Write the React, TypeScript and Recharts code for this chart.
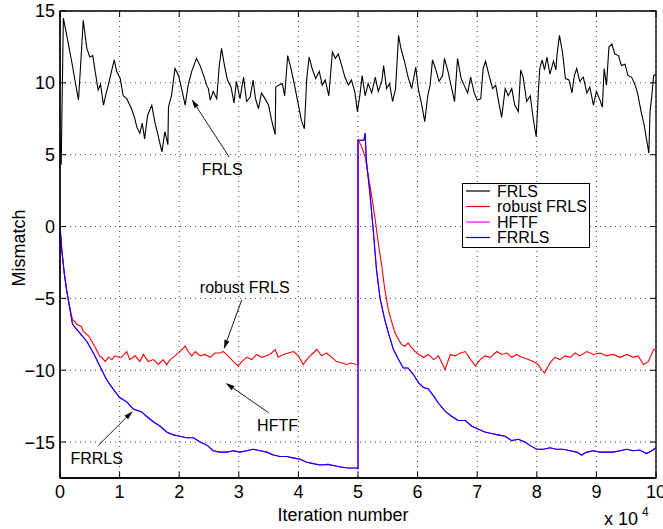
import {
  CartesianGrid,
  Legend,
  Line,
  LineChart,
  ReferenceArea,
  ReferenceDot,
  ReferenceLine,
  XAxis,
  YAxis,
} from "recharts";

// x in units of 10^4 iterations, y = mismatch
const frls: [number, number][] = [
  [0, 6.0], [0.02, 4.3], [0.056, 14.5], [0.1, 13.6], [0.15, 12.5], [0.2, 11.4], [0.25, 10.2], [0.31, 8.8],
  [0.35, 11.5], [0.39, 14.35], [0.45, 12.4], [0.5, 11.8], [0.55, 11.9], [0.59, 10.8], [0.64, 9.5], [0.68, 9.9],
  [0.73, 8.45], [0.77, 9.2], [0.81, 9.84], [0.87, 10.9], [0.91, 11.6], [0.95, 10.8], [1.01, 10.3], [1.06, 9.1],
  [1.12, 8.9], [1.2, 8.2], [1.25, 7.6], [1.29, 6.9], [1.34, 6.5], [1.38, 7.2], [1.42, 6.1], [1.47, 7.75],
  [1.54, 8.45], [1.59, 7.3], [1.65, 6.25], [1.71, 5.2], [1.76, 6.6], [1.81, 5.7], [1.82, 8.33], [1.87, 9.1],
  [1.93, 11.0], [1.99, 10.5], [2.04, 9.6], [2.1, 8.45], [2.15, 9.84], [2.21, 10.8], [2.29, 11.7], [2.35, 11.2],
  [2.41, 10.5], [2.46, 9.84], [2.49, 9.6], [2.52, 8.8], [2.57, 9.4], [2.63, 8.9], [2.67, 11.1], [2.71, 12.4],
  [2.76, 11.2], [2.81, 10.2], [2.87, 9.7], [2.92, 8.6], [2.96, 10.1], [3.02, 8.9], [3.08, 10.4], [3.13, 8.7],
  [3.19, 9.0], [3.24, 10.2], [3.28, 8.9], [3.33, 8.2], [3.38, 9.3], [3.44, 8.9], [3.5, 8.45], [3.55, 7.4],
  [3.61, 6.4], [3.62, 9.7], [3.67, 9.84], [3.73, 9.95], [3.77, 9.1], [3.82, 11.9], [3.87, 11.1], [3.93, 9.95],
  [4.0, 8.45], [4.05, 7.4], [4.1, 6.8], [4.14, 10.3], [4.18, 11.8], [4.23, 11.0], [4.29, 10.3], [4.35, 10.8],
  [4.4, 9.84], [4.45, 10.2], [4.51, 9.1], [4.57, 12.15], [4.62, 11.7], [4.67, 12.0], [4.72, 11.3], [4.78, 10.4],
  [4.84, 9.84], [4.89, 10.2], [4.95, 9.3], [4.99, 8.0], [5.03, 9.1], [5.07, 10.5], [5.12, 9.1], [5.17, 9.95],
  [5.23, 9.3], [5.29, 10.4], [5.34, 9.4], [5.4, 10.1], [5.43, 11.2], [5.48, 9.6], [5.53, 9.95], [5.58, 8.7],
  [5.63, 9.6], [5.68, 13.3], [5.72, 12.4], [5.78, 11.5], [5.84, 10.4], [5.9, 9.6], [5.97, 11.1], [6.01, 9.6],
  [6.07, 8.45], [6.12, 7.3], [6.17, 9.1], [6.21, 9.84], [6.25, 11.6], [6.3, 11.0], [6.36, 10.1], [6.42, 10.5],
  [6.45, 11.7], [6.51, 10.8], [6.56, 9.84], [6.62, 8.7], [6.67, 11.7], [6.73, 10.3], [6.78, 9.84], [6.84, 9.3],
  [6.89, 10.4], [6.95, 9.3], [7.0, 8.8], [7.06, 8.9], [7.1, 11.0], [7.14, 11.5], [7.2, 10.5], [7.26, 9.6],
  [7.31, 9.84], [7.37, 8.45], [7.41, 7.6], [7.47, 9.6], [7.52, 9.1], [7.58, 9.6], [7.63, 8.45], [7.69, 8.0],
  [7.73, 10.9], [7.77, 10.4], [7.83, 8.7], [7.89, 9.1], [7.94, 7.5], [7.99, 6.25], [8.03, 9.7], [8.05, 11.0],
  [8.09, 11.6], [8.13, 10.9], [8.17, 11.8], [8.22, 10.6], [8.28, 11.5], [8.32, 10.9], [8.34, 12.0], [8.38, 13.3],
  [8.43, 12.15], [8.48, 10.3], [8.54, 10.2], [8.59, 9.3], [8.63, 10.5], [8.67, 11.0], [8.72, 10.1], [8.78, 10.4],
  [8.84, 9.3], [8.89, 9.7], [8.95, 8.45], [9.0, 9.4], [9.06, 8.8], [9.1, 8.3], [9.13, 11.0], [9.17, 9.84],
  [9.21, 12.5], [9.26, 12.7], [9.31, 12.0], [9.37, 11.9], [9.42, 11.2], [9.48, 11.3], [9.53, 10.5], [9.59, 10.4],
  [9.65, 9.84], [9.69, 9.3], [9.75, 8.0], [9.8, 7.1], [9.84, 6.1], [9.88, 5.1], [9.9, 8.0], [9.93, 9.1],
  [9.96, 10.5], [10.0, 10.6],
];

const robustFrls: [number, number][] = [
  [0, 0], [0.03, -1.6], [0.07, -3.2], [0.11, -4.4], [0.16, -5.55], [0.21, -6.48], [0.25, -6.6], [0.28, -6.8],
  [0.36, -6.95], [0.39, -7.3], [0.48, -7.6], [0.59, -8.4], [0.67, -9.05], [0.7, -9.1], [0.76, -9.4], [0.81, -9.1],
  [0.87, -9.26], [0.92, -9.0], [0.98, -9.1], [1.03, -9.1], [1.12, -8.7], [1.17, -9.26], [1.26, -9.0], [1.34, -9.4],
  [1.4, -8.9], [1.48, -9.4], [1.57, -9.26], [1.65, -9.6], [1.73, -9.26], [1.79, -9.6], [1.85, -9.26], [1.93, -9.0],
  [2.01, -8.7], [2.1, -8.33], [2.15, -8.7], [2.21, -9.0], [2.27, -8.7], [2.35, -9.0], [2.43, -8.9], [2.52, -9.1],
  [2.6, -8.8], [2.68, -8.8], [2.74, -8.7], [2.82, -9.0], [2.91, -9.4], [2.99, -9.7], [3.05, -9.4], [3.13, -9.1],
  [3.22, -9.26], [3.3, -8.9], [3.38, -9.1], [3.47, -9.0], [3.55, -8.8], [3.61, -8.55], [3.66, -9.1], [3.75, -8.9],
  [3.83, -8.8], [3.92, -8.7], [4.0, -9.0], [4.08, -9.6], [4.17, -9.1], [4.25, -8.8], [4.31, -8.55], [4.39, -9.0],
  [4.47, -8.8], [4.56, -9.1], [4.64, -9.4], [4.73, -9.5], [4.81, -9.6], [4.89, -9.5], [4.97, -9.6], [5.0, -9.6],
  [5.0, 6.1], [5.06, 5.56], [5.12, 4.86], [5.17, 3.6], [5.23, 2.1], [5.29, 0.46], [5.34, -1.16], [5.4, -2.78],
  [5.45, -4.4], [5.51, -5.8], [5.57, -6.7], [5.62, -7.4], [5.68, -7.87], [5.73, -8.2], [5.79, -8.33], [5.84, -8.1],
  [5.9, -8.45], [5.96, -8.7], [6.02, -8.9], [6.1, -9.1], [6.18, -8.9], [6.27, -9.26], [6.35, -9.0], [6.46, -9.95],
  [6.55, -8.9], [6.63, -9.0], [6.72, -8.8], [6.8, -8.7], [6.89, -9.26], [6.97, -9.7], [7.05, -9.26], [7.13, -9.0],
  [7.22, -9.1], [7.33, -8.7], [7.41, -8.9], [7.5, -8.8], [7.58, -9.1], [7.66, -8.9], [7.75, -9.1], [7.86, -9.26],
  [7.94, -9.4], [8.02, -9.6], [8.08, -9.95], [8.13, -10.2], [8.22, -9.5], [8.3, -9.1], [8.39, -9.26], [8.47, -9.0],
  [8.56, -9.1], [8.64, -8.8], [8.72, -9.0], [8.84, -8.7], [8.95, -8.9], [9.06, -8.8], [9.17, -9.0], [9.28, -8.9],
  [9.4, -9.1], [9.51, -8.9], [9.62, -9.1], [9.7, -9.0], [9.79, -9.6], [9.87, -9.4], [9.96, -8.55], [10.0, -8.6],
];

const frrls: [number, number][] = [
  [0, 0], [0.03, -1.6], [0.07, -3.2], [0.11, -4.4], [0.16, -5.6], [0.21, -6.8], [0.27, -7.1], [0.33, -7.4],
  [0.45, -8.0], [0.56, -8.8], [0.67, -9.72], [0.78, -10.65], [0.89, -11.3], [1.0, -11.9], [1.12, -12.2],
  [1.23, -12.7], [1.37, -12.9], [1.45, -13.2], [1.57, -13.6], [1.68, -13.9], [1.79, -14.3], [1.9, -14.5],
  [2.01, -14.6], [2.12, -14.7], [2.24, -14.7], [2.35, -15.0], [2.46, -15.2], [2.57, -15.6], [2.68, -15.7],
  [2.8, -15.7], [2.91, -15.6], [3.02, -15.7], [3.13, -15.6], [3.24, -15.5], [3.36, -15.6], [3.47, -15.7],
  [3.58, -15.9], [3.69, -16.0], [3.8, -16.0], [3.91, -16.1], [4.03, -16.2], [4.14, -16.4], [4.25, -16.5],
  [4.36, -16.6], [4.5, -16.55], [4.66, -16.7], [4.83, -16.8], [4.97, -16.8], [5.0, -16.85], [5.0, 6.0],
  [5.1, 6.0], [5.12, 6.5], [5.14, 4.6], [5.2, 2.3], [5.26, -0.46], [5.31, -3.0], [5.37, -5.0], [5.45, -6.5],
  [5.51, -7.4], [5.59, -8.5], [5.68, -9.26], [5.76, -9.84], [5.84, -9.84], [5.93, -10.3], [6.02, -10.9],
  [6.1, -11.2], [6.18, -11.3], [6.27, -11.8], [6.35, -12.3], [6.46, -12.85], [6.57, -13.2], [6.68, -13.5],
  [6.8, -13.5], [6.91, -13.9], [7.02, -14.1], [7.13, -14.3], [7.24, -14.4], [7.35, -14.5], [7.47, -14.6],
  [7.58, -14.9], [7.69, -14.8], [7.8, -15.0], [7.91, -15.3], [8.0, -15.5], [8.11, -15.5], [8.22, -15.4],
  [8.33, -15.5], [8.44, -15.5], [8.56, -15.6], [8.67, -15.7], [8.75, -15.9], [8.84, -15.7], [8.95, -15.6],
  [9.06, -15.7], [9.17, -15.7], [9.28, -15.7], [9.4, -15.6], [9.51, -15.5], [9.62, -15.6], [9.73, -15.55],
  [9.84, -15.8], [9.93, -15.6], [10.0, -15.4],
];

// HFTF lies underneath FRRLS in the figure
const hftf: [number, number][] = frrls;

const xTicks = [0, 1, 2, 3, 4, 5, 6, 7, 8, 9, 10];
const yTicks = [-15, -10, -5, 0, 5, 10, 15];

const series = [
  { name: "FRLS", color: "#000000", data: frls },
  { name: "robust FRLS", color: "#ff0000", data: robustFrls },
  { name: "HFTF", color: "#ff00ff", data: hftf },
  { name: "FRRLS", color: "#0000ff", data: frrls },
];

// text annotations with arrows (data coordinates)
const notes = [
  { text: "FRLS", tx: 2.72, ty: 3.59, x1: 2.84, y1: 4.83, x2: 2.21, y2: 8.85 },
  { text: "robust FRLS", tx: 3.1, ty: -4.6, x1: 3.05, y1: -5.1, x2: 2.75, y2: -8.52 },
  { text: "HFTF", tx: 3.65, ty: -14.26, x1: 3.5, y1: -12.96, x2: 2.78, y2: -10.88 },
  { text: "FRRLS", tx: 0.615, ty: -16.55, x1: 0.643, y1: -15.23, x2: 1.22, y2: -12.85 },
];

const W = 663;
const H = 529;
const M = { top: 11, right: 7, bottom: 0, left: 10 };
const Y_AXIS_W = 50;
const X_AXIS_H = 51;
const PLOT_W = W - M.left - M.right - Y_AXIS_W;
const PLOT_H = H - M.top - M.bottom - X_AXIS_H;
const FONT = "'Liberation Sans', Arial, Helvetica, sans-serif";

const toPts = (arr: [number, number][]) => arr.map(([x, y]) => ({ x, y }));

const fmt = (v: number) => (v < 0 ? "\u2212" + Math.abs(v) : String(v));

const XTick = (props: any) => {
  const { x, y, payload } = props;
  const axisY = y - 7;
  return (
    <g>
      <line x1={x} x2={x} y1={axisY} y2={axisY - 6} stroke="#000" />
      <line x1={x} x2={x} y1={axisY - PLOT_H} y2={axisY - PLOT_H + 6} stroke="#000" />
      <text x={x} y={y} dy="0.71em" textAnchor="middle" fontSize={18} fill="#000" fontFamily={FONT}>
        {payload.value}
      </text>
    </g>
  );
};

const YTick = (props: any) => {
  const { x, y, payload } = props;
  const axisX = x + 5;
  return (
    <g>
      <line x1={axisX} x2={axisX + 6} y1={y} y2={y} stroke="#000" />
      <line x1={axisX + PLOT_W} x2={axisX + PLOT_W - 6} y1={y} y2={y} stroke="#000" />
      <text x={x} y={y} dy="0.36em" textAnchor="end" fontSize={18} fill="#000" fontFamily={FONT}>
        {fmt(payload.value)}
      </text>
    </g>
  );
};

const Arrow = (props: any) => {
  const { x1, y1, x2, y2 } = props;
  const a = Math.atan2(y2 - y1, x2 - x1);
  const c = Math.cos(a);
  const s = Math.sin(a);
  const bx = x2 - 9 * c;
  const by = y2 - 9 * s;
  return (
    <g>
      <line x1={x1} y1={y1} x2={bx} y2={by} stroke="#000" strokeWidth={0.9} />
      <polygon
        points={`${x2},${y2} ${bx - s * 2.6},${by + c * 2.6} ${bx + s * 2.6},${by - c * 2.6}`}
        fill="#000"
      />
    </g>
  );
};

const LegendBox = () => (
  <svg width={128} height={65} style={{ display: "block" }}>
    <rect x={0.5} y={0.5} width={127} height={64} fill="#fff" stroke="#000" />
    {series.map((s, i) => {
      const cy = 8 + i * 15.5;
      return (
        <g key={s.name}>
          <line x1={4} x2={28} y1={cy} y2={cy} stroke={s.color} strokeWidth={1.2} />
          <text x={35} y={cy} dy="0.36em" fontSize={16} fill="#000" fontFamily={FONT}>
            {s.name}
          </text>
        </g>
      );
    })}
  </svg>
);

export default function App() {
  return (
    <div style={{ position: "absolute", left: 0, top: 0, background: "#fff" }}>
      <LineChart width={W} height={H} margin={M}>
        <CartesianGrid stroke="#444" strokeDasharray="1 4" />
        <XAxis
          type="number"
          dataKey="x"
          domain={[0, 10]}
          ticks={xTicks}
          interval={0}
          allowDataOverflow
          height={X_AXIS_H}
          tickSize={0}
          tickMargin={7}
          tick={<XTick />}
          axisLine={{ stroke: "#000", strokeWidth: 1.3 }}
          label={{
            content: (p: any) => {
              const vb = p.viewBox;
              return (
                <g fontFamily={FONT} fill="#000">
                  <text x={343} y={vb.y + 43} textAnchor="middle" fontSize={18}>
                    Iteration number
                  </text>
                  <text x={604} y={vb.y + 47} fontSize={18}>
                    x 10
                  </text>
                  <text x={642} y={vb.y + 38} fontSize={12}>
                    4
                  </text>
                </g>
              );
            },
          }}
        />
        <YAxis
          type="number"
          dataKey="y"
          domain={[-17.5, 15]}
          ticks={yTicks}
          interval={0}
          allowDataOverflow
          width={Y_AXIS_W}
          tickSize={0}
          tickMargin={5}
          tick={<YTick />}
          axisLine={{ stroke: "#000", strokeWidth: 1.3 }}
          label={{
            content: () => (
              <text
                x={25}
                y={248}
                transform="rotate(-90, 25, 248)"
                textAnchor="middle"
                fontSize={18}
                fill="#000"
                fontFamily={FONT}
              >
                Mismatch
              </text>
            ),
          }}
        />
        <ReferenceArea
          x1={0}
          x2={10}
          y1={-17.5}
          y2={15}
          fill="none"
          fillOpacity={0}
          stroke="#000"
          strokeWidth={1.3}
          ifOverflow="visible"
        />
        {series.map((s) => (
          <Line
            key={s.name}
            data={toPts(s.data)}
            dataKey="y"
            name={s.name}
            type="linear"
            stroke={s.color}
            strokeWidth={1.1}
            dot={false}
            activeDot={false}
            isAnimationActive={false}
          />
        ))}
        {notes.map((n) => (
          <ReferenceLine
            key={"a" + n.text}
            segment={[
              { x: n.x1, y: n.y1 },
              { x: n.x2, y: n.y2 },
            ]}
            ifOverflow="visible"
            shape={(p: any) => <Arrow {...p} />}
          />
        ))}
        {notes.map((n) => (
          <ReferenceDot
            key={"t" + n.text}
            x={n.tx}
            y={n.ty}
            r={0}
            ifOverflow="visible"
            shape={(p: any) => (
              <text x={p.cx} y={p.cy} textAnchor="middle" fontSize={16} fill="#000" fontFamily={FONT}>
                {n.text}
              </text>
            )}
          />
        ))}
        <Legend
          verticalAlign="middle"
          align="center"
          layout="horizontal"
          wrapperStyle={{ left: 462, top: 183, width: 128, height: 65 }}
          content={() => <LegendBox />}
        />
      </LineChart>
    </div>
  );
}
